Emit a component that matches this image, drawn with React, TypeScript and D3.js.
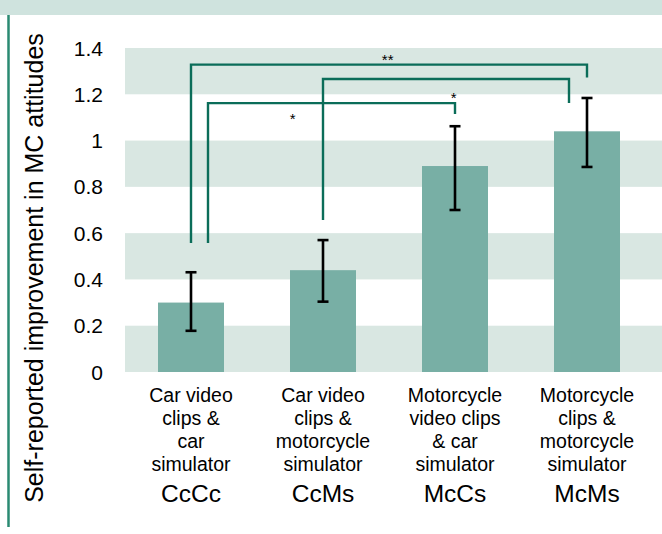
import { useEffect, useRef } from 'react';
import * as d3 from 'd3';

// data
const categories = ['CcCc', 'CcMs', 'McCs', 'McMs'];
const categoryText = [
  ['Car video', 'clips &', 'car', 'simulator'],
  ['Car video', 'clips &', 'motorcycle', 'simulator'],
  ['Motorcycle', 'video clips', '& car', 'simulator'],
  ['Motorcycle', 'clips &', 'motorcycle', 'simulator'],
];
const means = [0.3, 0.44, 0.89, 1.04];
const errLow = [0.178, 0.304, 0.7, 0.886];
const errHigh = [0.431, 0.57, 1.062, 1.184];
const yTicks = [0, 0.2, 0.4, 0.6, 0.8, 1.0, 1.2, 1.4];
const yTickLabels = ['0', '0.2', '0.4', '0.6', '0.8', '1', '1.2', '1.4'];
const yTitle = 'Self-reported improvement in MC attitudes';

// significance brackets: from / to group, height of the bar, where each leg ends
const bracketFrom = ['CcCc', 'CcMs', 'CcCc'];
const bracketTo = ['McMs', 'McMs', 'McCs'];
const bracketTop = [1.328, 1.266, 1.162];
const bracketFromEnd = [0.557, 0.657, 0.557];
const bracketToEnd = [1.272, 1.162, 1.115];
const sigText = ['**', '*', '*'];
const sigAt = [1.49, 1.99, 0.77]; // in category steps from the first centre
const sigY = [1.362, 1.197, 1.11];

const W = 662;
const H = 534;
const FONT = '"Liberation Sans", Arial, Helvetica, sans-serif';
const BAR = '#78afa5';
const BAND = '#d9e7e2';
const DARK = '#0b6d59';

export default function App() {
  const svgRef = useRef<SVGSVGElement>(null);

  useEffect(() => {
    if (!svgRef.current) return;
    const svg = d3.select(svgRef.current);
    svg.selectAll('*').remove();

    const y = d3.scaleLinear().domain([0, 1.4]).range([372, 48]);
    const x = d3.scaleBand<string>()
      .domain(categories)
      .range([125, 653])
      .paddingInner(0.5)
      .paddingOuter(0.25);
    const cx = (c: string) => (x(c) as number) + x.bandwidth() / 2;

    // header strip and left rule
    svg.append('rect').attr('x', 0).attr('y', 0).attr('width', W).attr('height', 15).attr('fill', '#cfe3de');
    svg.append('line')
      .attr('x1', 8.5).attr('x2', 8.5).attr('y1', 15).attr('y2', 527)
      .attr('stroke', '#2a8a72').attr('stroke-width', 2.5);

    // striped background
    const bands = svg.append('g');
    for (let i = 0; i < yTicks.length - 1; i += 2) {
      bands.append('rect')
        .attr('x', 125)
        .attr('y', y(yTicks[i + 1]))
        .attr('width', W - 125)
        .attr('height', y(yTicks[i]) - y(yTicks[i + 1]))
        .attr('fill', BAND);
    }

    // y tick labels
    svg.append('g')
      .selectAll('text')
      .data(yTicks)
      .join('text')
      .attr('x', 103)
      .attr('y', (d) => y(d) + 7.5)
      .attr('text-anchor', 'end')
      .attr('font-family', FONT)
      .attr('font-size', 21)
      .attr('fill', '#000')
      .text((_d, i) => yTickLabels[i]);

    // y title
    svg.append('text')
      .attr('transform', `translate(43, 268) rotate(-90)`)
      .attr('text-anchor', 'middle')
      .attr('font-family', FONT)
      .attr('font-size', 25)
      .attr('fill', '#000')
      .text(yTitle);

    // bars
    svg.append('g')
      .selectAll('rect')
      .data(categories)
      .join('rect')
      .attr('x', (c) => x(c) as number)
      .attr('width', x.bandwidth())
      .attr('y', (_c, i) => y(means[i]))
      .attr('height', (_c, i) => y(0) - y(means[i]))
      .attr('fill', BAR);

    // error bars
    const err = svg.append('g').attr('stroke', '#000').attr('stroke-width', 2.6);
    categories.forEach((c, i) => {
      const px = cx(c);
      err.append('line').attr('x1', px).attr('x2', px).attr('y1', y(errLow[i])).attr('y2', y(errHigh[i]));
      err.append('line').attr('x1', px - 5.5).attr('x2', px + 5.5).attr('y1', y(errLow[i])).attr('y2', y(errLow[i]));
      err.append('line').attr('x1', px - 5.5).attr('x2', px + 5.5).attr('y1', y(errHigh[i])).attr('y2', y(errHigh[i]));
    });

    // significance brackets
    const fromShift = [0, 0, 17];
    const toShift = [0, -18, 0];
    const br = svg.append('g');
    bracketFrom.forEach((f, i) => {
      const x1 = cx(f) + fromShift[i];
      const x2 = cx(bracketTo[i]) + toShift[i];
      const path = d3.path();
      path.moveTo(x1, y(bracketFromEnd[i]));
      path.lineTo(x1, y(bracketTop[i]));
      path.lineTo(x2, y(bracketTop[i]));
      path.lineTo(x2, y(bracketToEnd[i]));
      br.append('path')
        .attr('d', path.toString())
        .attr('fill', 'none')
        .attr('stroke', DARK)
        .attr('stroke-width', 2.4);
    });

    const step = x.step();
    const x0 = cx(categories[0]);
    svg.append('g')
      .selectAll('text')
      .data(sigText)
      .join('text')
      .attr('x', (_d, i) => x0 + sigAt[i] * step)
      .attr('y', (_d, i) => y(sigY[i]) + 8.5)
      .attr('text-anchor', 'middle')
      .attr('font-family', FONT)
      .attr('font-size', 15)
      .attr('fill', '#000')
      .text((d) => d);

    // category labels
    const labels = svg.append('g').attr('font-family', FONT).attr('fill', '#000').attr('text-anchor', 'middle');
    categories.forEach((c, i) => {
      categoryText[i].forEach((line, k) => {
        labels.append('text')
          .attr('x', cx(c))
          .attr('y', 401.5 + k * 23.2)
          .attr('font-size', 19.5)
          .text(line);
      });
      labels.append('text')
        .attr('x', cx(c))
        .attr('y', 501.5)
        .attr('font-size', 24.5)
        .text(c);
    });
  }, []);

  return (
    <svg
      ref={svgRef}
      width={W}
      height={H}
      style={{ position: 'absolute', left: 0, top: 0, background: '#fff' }}
    />
  );
}
